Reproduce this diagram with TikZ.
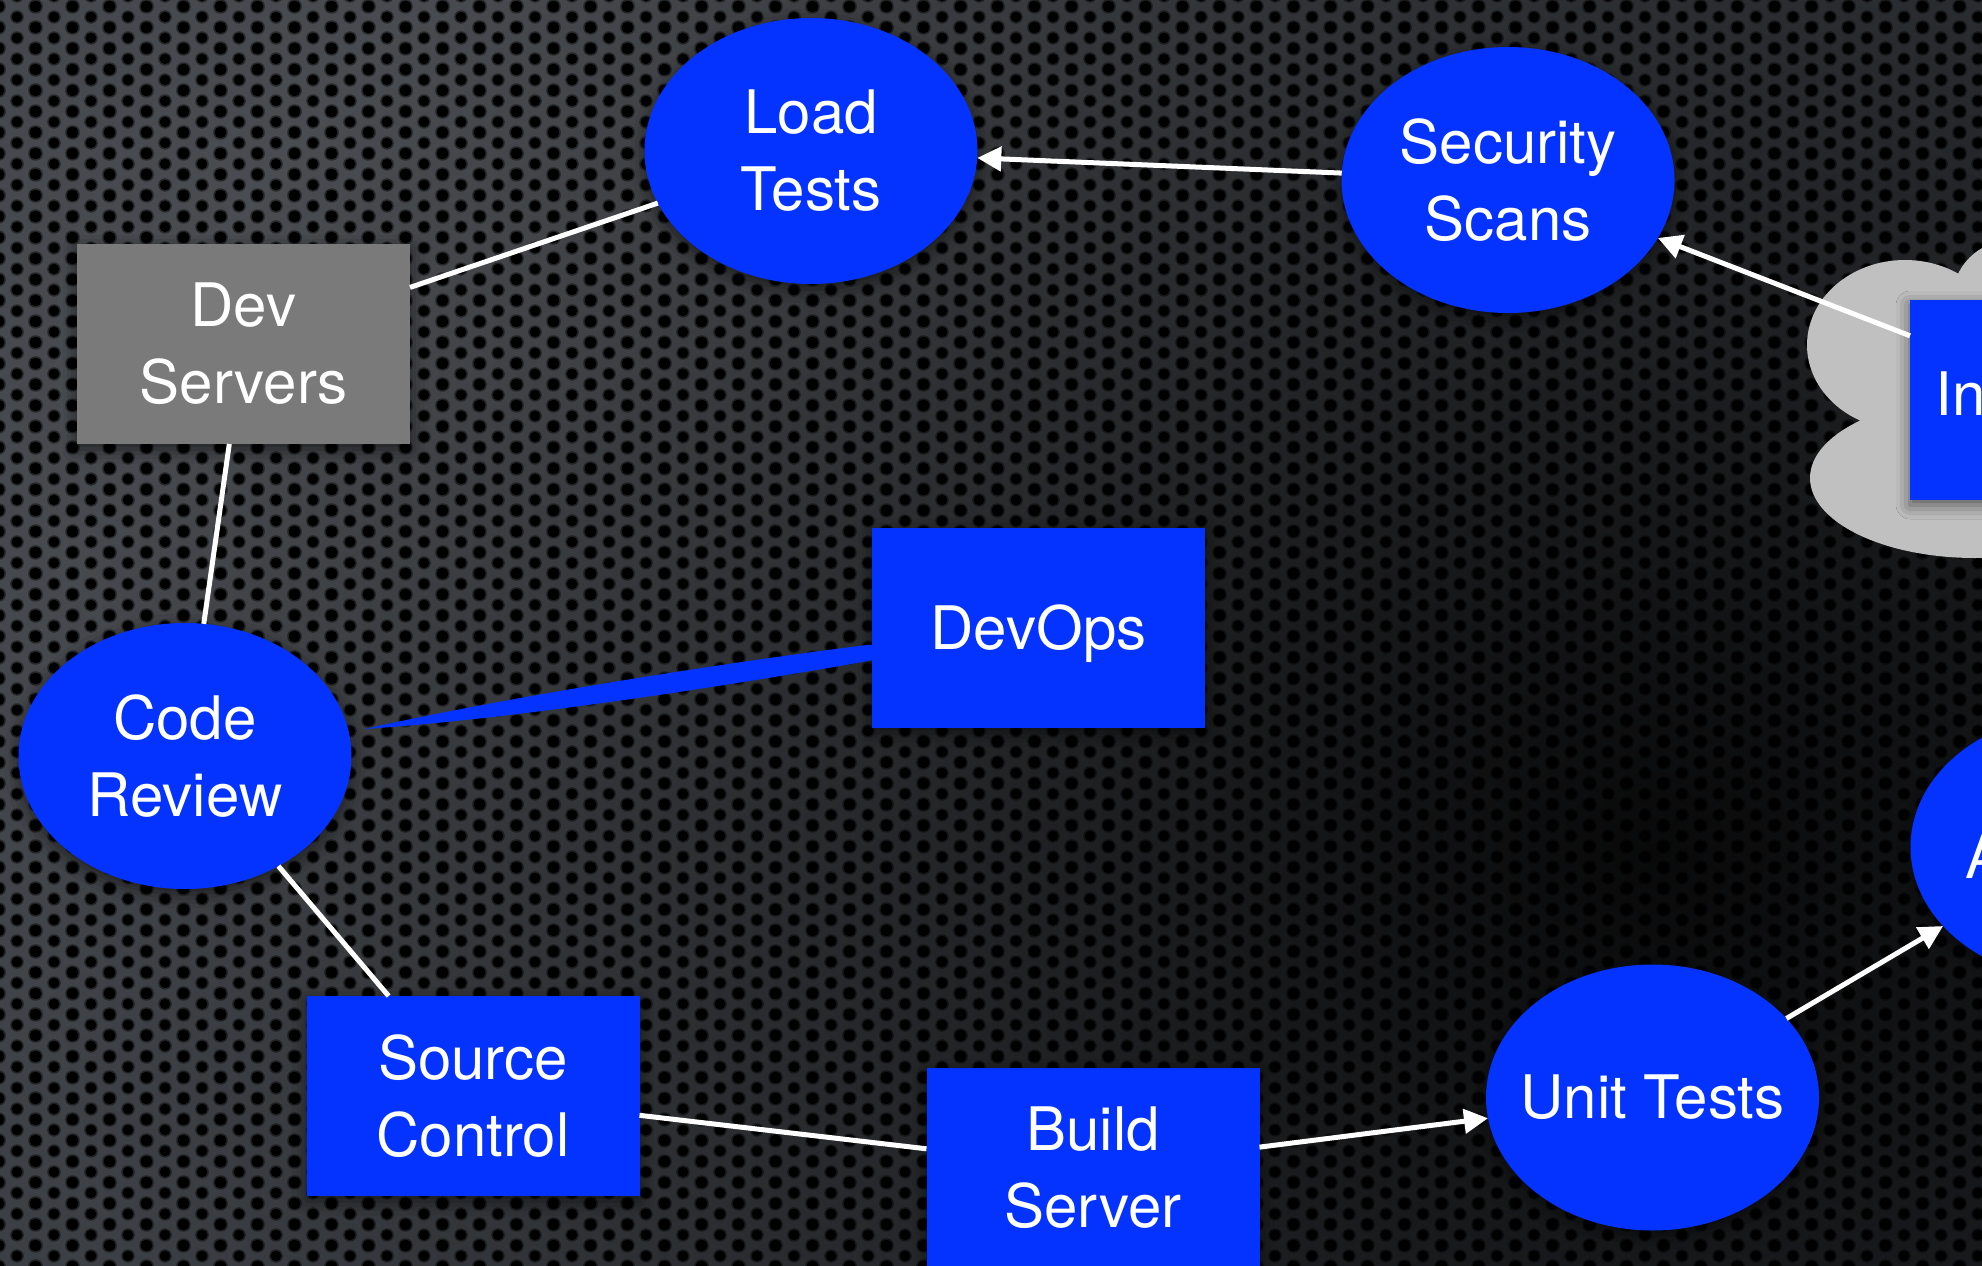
\documentclass[tikz,border=0pt]{standalone}
\usepackage{fontspec}
\setmainfont{TeX Gyre Heros}
\usetikzlibrary{arrows.meta,shapes.geometric,shadows.blur,patterns,fadings,calc}

\definecolor{kblue}{RGB}{4,51,255}
\definecolor{kgray}{RGB}{122,122,122}
\definecolor{cloudgray}{RGB}{192,192,192}
\definecolor{bgmid}{RGB}{40,44,50}
\definecolor{bglight}{RGB}{80,82,86}

\pgfdeclarepatternformonly{holesA}{\pgfpointorigin}{\pgfpoint{37pt}{21pt}}{\pgfpoint{37pt}{21pt}}{%
  \pgfpathcircle{\pgfpoint{0pt}{0pt}}{7pt}%
  \pgfpathcircle{\pgfpoint{37pt}{0pt}}{7pt}%
  \pgfpathcircle{\pgfpoint{0pt}{21pt}}{7pt}%
  \pgfpathcircle{\pgfpoint{37pt}{21pt}}{7pt}%
  \pgfpathcircle{\pgfpoint{18.5pt}{10.5pt}}{7pt}%
  \pgfusepath{fill}}
\pgfdeclarepatternformonly{holesB}{\pgfpointorigin}{\pgfpoint{37pt}{21pt}}{\pgfpoint{37pt}{21pt}}{%
  \pgfpathcircle{\pgfpoint{0pt}{0pt}}{5.5pt}%
  \pgfpathcircle{\pgfpoint{37pt}{0pt}}{5.5pt}%
  \pgfpathcircle{\pgfpoint{0pt}{21pt}}{5.5pt}%
  \pgfpathcircle{\pgfpoint{37pt}{21pt}}{5.5pt}%
  \pgfpathcircle{\pgfpoint{18.5pt}{10.5pt}}{5.5pt}%
  \pgfusepath{fill}}

\pgfdeclareradialshading{glowshade}{\pgfpointorigin}{color(0bp)=(white); color(25bp)=(black); color(50bp)=(black)}
\pgfdeclarefading{glowF}{\pgfuseshading{glowshade}}

\newcommand{\bigfont}{\fontsize{60}{77}\selectfont}

\tikzset{
  softshadow/.style={blur shadow={shadow xshift=0pt, shadow yshift=-5pt, shadow blur radius=14pt, shadow opacity=55}},
  bubble/.style={ellipse, fill=kblue, minimum width=333pt, minimum height=266pt, inner sep=0pt, outer sep=0pt,
    text=white, font=\bigfont, align=center, softshadow},
  boxnode/.style={rectangle, fill=kblue, minimum width=333pt, minimum height=200pt, inner sep=0pt, outer sep=0pt,
    text=white, font=\bigfont, align=center, softshadow},
  link/.style={draw=white, line width=5pt},
  arrowlink/.style={link, -{Triangle[length=24pt,width=24pt]}},
}

\begin{document}
\begin{tikzpicture}[x=1pt,y=-1pt]
\useasboundingbox (0,0) rectangle (1982,1266);
\begin{scope}
\clip (0,0) rectangle (1982,1266);

% background: perforated metal
\fill[bgmid] (0,0) rectangle (1982,1266);
\fill[bglight, path fading=glowF] (600,350) ellipse (2600 and 2000);
\fill[black, path fading=glowF, opacity=0.85] (1650,850) ellipse (1600 and 1300);
\fill[pattern=holesA, pattern color=black, fill opacity=0.45] (0,0) rectangle (1982,1266);
\fill[pattern=holesB, pattern color=black] (0,0) rectangle (1982,1266);

% cloud
\fill[cloudgray] (1905,345) ellipse (98 and 85)
                 (1975,478) ellipse (165 and 80)
                 (2012,300) circle (60)
                 (2010,400) ellipse (150 and 110);

% nodes
\node[boxnode, fill=kgray] (devserv) at (243.5,344) {Dev\\Servers};
\node[bubble] (load) at (811,151) {Load\\Tests};
\node[bubble] (sec) at (1508,180) {Security\\Scans};
\node[boxnode] (integ) at (2076.5,400) {Integration};
\node[bubble] (code) at (185,756) {Code\\Review};
\node[boxnode, text depth=0pt] (devops) at (1038.5,627.5) {DevOps};
\node[boxnode] (source) at (473,1096) {Source\\Control};
\node[boxnode] (build) at (1093,1168) {Build\\Server};
\node[bubble, inner xsep=-25pt] (unit) at (1652.5,1097.5) {Unit Tests};
\node[bubble] (accept) at (2077,847) {\mbox{}\\Analysis};

% connectors
\draw[link] (devserv) -- (load);
\draw[arrowlink] (sec) -- (load);
\draw[arrowlink] (integ) -- (sec);
\draw[link] (devserv) -- (code);
\draw[link] (code) -- (source);
\draw[link] (source) -- (build);
\draw[arrowlink] (build) -- (unit);
\draw[arrowlink] (unit) -- (accept);

% brush stroke between DevOps and Code Review
\path (devops) -- (code)
  coordinate[pos=0.005] (bA) coordinate[pos=0.3] (bM1)
  coordinate[pos=0.7] (bM2) coordinate[pos=0.97] (bB);
\fill[kblue] (bB)
  .. controls ($(bM2)!12pt!90:(bB)$) and ($(bM1)!12pt!90:(bB)$) .. ($(bA)!8pt!90:(bB)$)
  -- ($(bA)!8pt!-90:(bB)$)
  .. controls ($(bM1)!12pt!-90:(bB)$) and ($(bM2)!10pt!-90:(bB)$) .. (bB) -- cycle;
\fill[kblue] (bA) circle (8);
\end{scope}
\end{tikzpicture}
\end{document}
